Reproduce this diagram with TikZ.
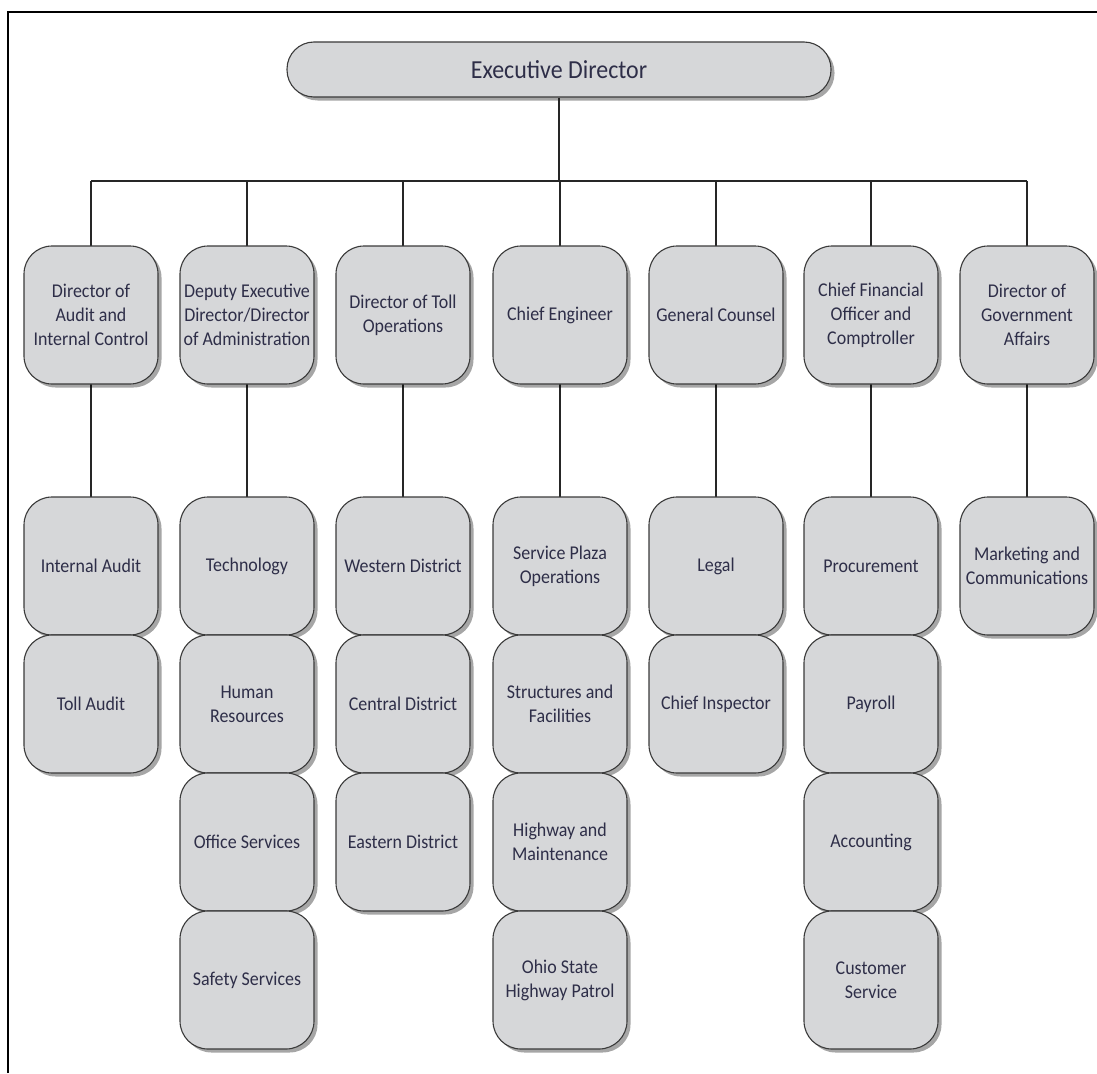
\documentclass[tikz,border=0pt]{standalone}
\usepackage{fontspec}
\setmainfont[FakeStretch=0.92]{Carlito}
\usetikzlibrary{shadows}
\definecolor{boxfill}{HTML}{D6D7D9}
\definecolor{boxline}{HTML}{3A3A3A}
\definecolor{txt}{HTML}{2E2E48}
\tikzset{
  orgbox/.style={draw=boxline, line width=1.1pt, fill=boxfill, rounded corners=28pt,
    minimum width=134pt, minimum height=138pt, align=center,
    text=txt, font=\fontsize{19.5}{24}\selectfont, inner sep=0pt,
    drop shadow={shadow xshift=3.5pt, shadow yshift=-3.5pt, fill=black, opacity=0.35}},
  topbox/.style={orgbox, rounded corners=27pt, minimum width=544pt, minimum height=55pt,
    font=\fontsize{26}{28}\selectfont},
  link/.style={draw=black!85, line width=1.1pt},
  frame/.style={draw=black, line width=2pt}
}
\begin{document}
\begin{tikzpicture}[x=1pt,y=-1pt]
\useasboundingbox (0,0) rectangle (1097,1073);
\draw[frame] (8,1073) -- (8,12) -- (1097,12);
\coordinate (busL) at (91,181);
\coordinate (busR) at (1027,181);
\node[topbox] (exec) at (559,69.5) {Executive Director};
\foreach \n/\x in {a/91,b/247,c/403,d/560,e/716,f/871,g/1027}
  {\coordinate (\n top) at (\x,246);}
\draw[link] (busL) -- (busR);
\draw[link] (exec.south) -- (exec.south |- busL);
\foreach \n in {a,b,c,d,e,f,g}{
  \draw[link] (\n top |- busL) -- (\n top);
  \draw[link] (\n top) -- ++(0,300);
}
% level 1
\node[orgbox] (a) at (91,315) {Director of\\Audit and\\Internal Control};
\node[orgbox] (b) at (247,315) {Deputy Executive\\Director/Director\\of Administration};
\node[orgbox] (c) at (403,315) {Director of Toll\\Operations};
\node[orgbox] (d) at (560,315) {Chief Engineer};
\node[orgbox] (e) at (716,315) {General Counsel};
\node[orgbox] (f) at (871,315) {Chief Financial\\Officer and\\Comptroller};
\node[orgbox] (g) at (1027,315) {Director of\\Government\\Affairs};
% level 2
\node[orgbox] (a1) at (91,566) {Internal Audit};
\node[orgbox] (a2) at (91,704) {Toll Audit};
\node[orgbox] (b1) at (247,566) {Technology};
\node[orgbox] (b2) at (247,704) {Human\\Resources};
\node[orgbox] (b3) at (247,842) {Office Services};
\node[orgbox] (b4) at (247,980) {Safety Services};
\node[orgbox] (c1) at (403,566) {Western District};
\node[orgbox] (c2) at (403,704) {Central District};
\node[orgbox] (c3) at (403,842) {Eastern District};
\node[orgbox] (d1) at (560,566) {Service Plaza\\Operations};
\node[orgbox] (d2) at (560,704) {Structures and\\Facilities};
\node[orgbox] (d3) at (560,842) {Highway and\\Maintenance};
\node[orgbox] (d4) at (560,980) {Ohio State\\Highway Patrol};
\node[orgbox] (e1) at (716,566) {Legal};
\node[orgbox] (e2) at (716,704) {Chief Inspector};
\node[orgbox] (f1) at (871,566) {Procurement};
\node[orgbox] (f2) at (871,704) {Payroll};
\node[orgbox] (f3) at (871,842) {Accounting};
\node[orgbox] (f4) at (871,980) {Customer\\Service};
\node[orgbox] (g1) at (1027,566) {Marketing and\\Communications};
\end{tikzpicture}
\end{document}
